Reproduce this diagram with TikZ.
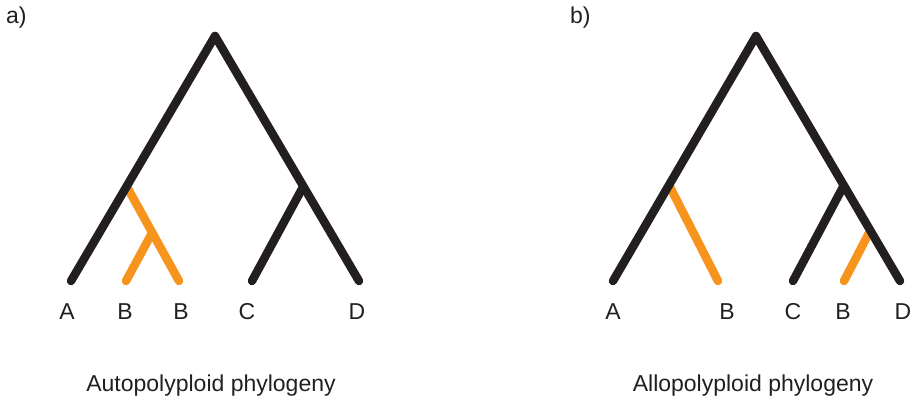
\documentclass[tikz,border=0pt]{standalone}
\usepackage{fontspec}
\setmainfont{Liberation Sans}
\definecolor{treeblack}{HTML}{231F20}
\definecolor{treeorange}{HTML}{F7941D}
\begin{document}
\begin{tikzpicture}[x=1pt,y=-1pt,
  blk/.style={draw=treeblack,line width=8.5pt,line cap=round,line join=round},
  org/.style={draw=treeorange,line width=8.5pt,line cap=round,line join=round},
  lab/.style={font=\fontsize{23}{26}\selectfont,text=treeblack,inner sep=0pt},
  ttl/.style={font=\fontsize{23}{26}\selectfont,text=treeblack,inner sep=0pt}]
\useasboundingbox (0,0) rectangle (917,401);
% ---- a) ----
\coordinate (aR) at (215,36);
\coordinate (aA) at (71,281);
\coordinate (aD) at (359,281);
\coordinate (aL) at (127,187);
\coordinate (aM) at (152,233);
\coordinate (aB1) at (126,281);
\coordinate (aB2) at (179,281);
\coordinate (aN) at (303,187);
\coordinate (aC) at (252,281);
\draw[org] (aL) -- (aB2);
\draw[org] (aM) -- (aB1);
\draw[blk] (aA) -- (aR) -- (aD);
\draw[blk] (aN) -- (aC);
\node[lab] (laA) at (67,312) {A};
\node[lab] (laB1) at (125,312) {B};
\node[lab] (laB2) at (181,312) {B};
\node[lab] (laC) at (247,312) {C};
\node[lab] (laD) at (357,312) {D};
\node[ttl] (ta) at (211,386) {Autopolyploid phylogeny};
\node[lab,anchor=west] (pa) at (6,18) {a)};
% ---- b) ----
\coordinate (bR) at (756,36);
\coordinate (bA) at (613,281);
\coordinate (bD) at (900,281);
\coordinate (bL) at (670,187);
\coordinate (bB1) at (718,281);
\coordinate (bN) at (843,187);
\coordinate (bC) at (793,281);
\coordinate (bM) at (869,233);
\coordinate (bB2) at (844,281);
\draw[org] (bL) -- (bB1);
\draw[org] (bM) -- (bB2);
\draw[blk] (bA) -- (bR) -- (bD);
\draw[blk] (bN) -- (bC);
\node[lab] (lbA) at (613,312) {A};
\node[lab] (lbB1) at (727,312) {B};
\node[lab] (lbC) at (793,312) {C};
\node[lab] (lbB2) at (843,312) {B};
\node[lab] (lbD) at (903,312) {D};
\node[ttl] (tb) at (753,386) {Allopolyploid phylogeny};
\node[lab,anchor=west] (pb) at (570,18) {b)};
\end{tikzpicture}
\end{document}
